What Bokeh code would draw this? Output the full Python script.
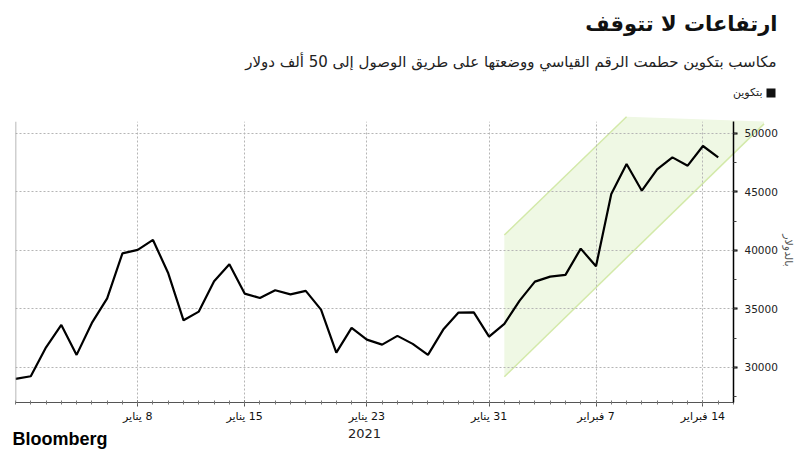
import numpy as np
import pandas as pd
from bokeh.plotting import figure
from bokeh.models import (Label, FixedTicker, Range1d, BoxAnnotation, Span)
from bokeh.embed import file_html
from bokeh.resources import INLINE

# ---------------- data ----------------
dates = pd.date_range("2020-12-31", "2021-02-15", freq="D")
btc = [29018, 29240, 31716, 33628, 31067, 33798, 35898, 39740, 40030, 40883,
       38033, 34021, 34763, 37350, 38800, 36300, 35930, 36582, 36240, 36530,
       34934, 31263, 33370, 32373, 31946, 32689, 32006, 31067, 33227, 34678,
       34700, 32629, 33713, 35702, 37324, 37750, 37896, 40141, 38630, 44810,
       47371, 45092, 46910, 47935, 47225, 48907, 47935]

tick_dates = ["2021-01-08", "2021-01-15", "2021-01-23", "2021-01-31", "2021-02-07", "2021-02-14"]
tick_labels = ["8 يناير", "15 يناير", "23 يناير", "31 يناير", "7 فبراير", "14 فبراير"]
y_ticks = [30000, 35000, 40000, 45000, 50000]
y_minor = [27500, 30000, 32500, 35000, 37500, 40000, 42500, 45000, 47500, 50000]

# trend channel (corners)
chan_x = ["2021-02-01", "2021-02-01", "2021-02-09", "2021-02-18", "2021-02-18"]
chan_y = [29200, 41300, 51400, 51000, 50800]
upper_x = ["2021-02-01", "2021-02-09"]
upper_y = [41300, 51400]
lower_x = ["2021-02-01", "2021-02-18"]
lower_y = [29200, 50800]

title_text = "ارتفاعات لا تتوقف"
subtitle_text = "مكاسب بتكوين حطمت الرقم القياسي ووضعتها على طريق الوصول إلى 50 ألف دولار"
legend_text = "بتكوين"
unit_text = "بالدولار"
year_text = "2021"
source_text = "Bloomberg"

RLM = "\u200f"
ARAB = "DejaVu Sans"
W, H = 800, 452
# main plot frame in canvas pixels
FL, FR, FT, FB = 15, 733, 121, 402
X0, X1 = "2020-12-31", "2021-02-16"
Y0, Y1 = 27000, 51000


def ms(d):
    return pd.Timestamp(d).value // 10**6


x_vals = [ms(d) for d in dates]

# ---------------- main chart (transparent, on top) ----------------
p = figure(width=W, height=H, x_axis_type="datetime", y_axis_location="right",
           output_backend="svg", toolbar_location=None,
           x_range=Range1d(ms(X0), ms(X1)), y_range=Range1d(Y0, Y1),
           min_border_left=FL, min_border_right=W - FR, min_border_top=FT,
           min_border_bottom=H - FB,
           styles={"position": "absolute", "top": "0px", "left": "0px"})
p.title.visible = False
p.outline_line_color = None
p.background_fill_color = None
p.border_fill_color = None

p.line(x_vals, btc, line_color="black", line_width=2.2)
p.add_layout(Span(location=ms(X0), dimension="height", line_color="#a0a0a0", line_width=1.5))

xa = p.xaxis[0]
xa.ticker = FixedTicker(ticks=[ms(d) for d in tick_dates], minor_ticks=x_vals + [ms(X1)])
xa.major_label_overrides = {ms(d): RLM + t for d, t in zip(tick_dates, tick_labels)}
xa.major_label_text_font = ARAB
xa.major_label_text_font_size = "11px"
xa.major_label_text_color = "#111111"
xa.major_label_standoff = 3
xa.axis_line_color = "#555555"
xa.major_tick_line_color = "#555555"
xa.minor_tick_line_color = "#777777"
xa.major_tick_in = 2
xa.major_tick_out = 4
xa.minor_tick_in = 2
xa.minor_tick_out = 2

ya = p.yaxis[0]
ya.ticker = FixedTicker(ticks=y_ticks, minor_ticks=y_minor)
ya.major_label_text_font = "DejaVu Sans"
ya.major_label_text_font_size = "10.5px"
ya.major_label_text_color = "#222222"
ya.major_label_standoff = 7
ya.axis_line_color = "black"
ya.axis_line_width = 1.5
ya.major_tick_in = 0
ya.major_tick_out = 4
ya.major_tick_line_width = 2
ya.minor_tick_in = 0
ya.minor_tick_out = 3
ya.minor_tick_line_color = "#444444"

for g in (p.xgrid[0], p.ygrid[0]):
    g.grid_line_color = "#b5b5b5"
    g.grid_line_dash = "2 2"
    g.grid_line_width = 1
p.ygrid[0].ticker = FixedTicker(ticks=y_ticks)
p.xgrid[0].ticker = FixedTicker(ticks=[ms(d) for d in tick_dates])

# ---------------- background layer (full canvas, same data mapping) ----------------
px_x = (ms(X1) - ms(X0)) / (FR - FL)
px_y = (Y1 - Y0) / (FB - FT)
bg = figure(width=W, height=H, output_backend="svg", toolbar_location=None,
            x_axis_location=None, y_axis_location=None,
            x_range=Range1d(ms(X0) - FL * px_x, ms(X0) + (W - FL) * px_x),
            y_range=Range1d(Y0 - (H - FB) * px_y, Y1 + FT * px_y),
            min_border=0)
bg.title.visible = False
bg.outline_line_color = None
bg.background_fill_color = "white"
bg.border_fill_color = "white"
bg.grid.visible = False

bg.patch([ms(d) for d in chan_x], chan_y, fill_color="#eff8e4", line_color=None)
bg.line([ms(d) for d in upper_x], upper_y, line_color="#d3e9a9", line_width=1.5)
bg.line([ms(d) for d in lower_x], lower_y, line_color="#d3e9a9", line_width=1.5)


def lab(text, px, py, **kw):
    return Label(x=px, y=H - py, x_units="screen", y_units="screen", text=text, **kw)


bg.add_layout(lab(title_text, 777, 23, text_font=ARAB, text_font_size="21px",
                  text_font_style="bold", text_color="#111111", text_align="right",
                  text_baseline="middle"))
bg.add_layout(lab(subtitle_text, 776, 61, text_font=ARAB, text_font_size="15px",
                  text_color="#222222", text_align="right", text_baseline="middle"))
bg.add_layout(lab(legend_text, 762, 92, text_font=ARAB, text_font_size="11px",
                  text_color="#222222", text_align="right", text_baseline="middle"))
bg.add_layout(BoxAnnotation(left=766, right=775, bottom=H - 97, top=H - 88,
                            left_units="screen", right_units="screen",
                            bottom_units="screen", top_units="screen",
                            fill_color="#111111", fill_alpha=1, line_color=None))
bg.add_layout(lab(unit_text, 788, 250, text_font=ARAB, text_font_size="11px",
                  text_color="#555555", text_align="center", text_baseline="middle",
                  angle=-np.pi / 2))
bg.add_layout(lab(year_text, 364, 433, text_font="DejaVu Sans", text_font_size="13px",
                  text_color="#222222", text_align="center", text_baseline="middle"))
bg.add_layout(lab(source_text, 12, 438, text_font="Liberation Sans", text_font_size="18px",
                  text_font_style="bold", text_color="black", text_align="left",
                  text_baseline="middle"))

open("out.html", "w").write(file_html([bg, p], INLINE))
